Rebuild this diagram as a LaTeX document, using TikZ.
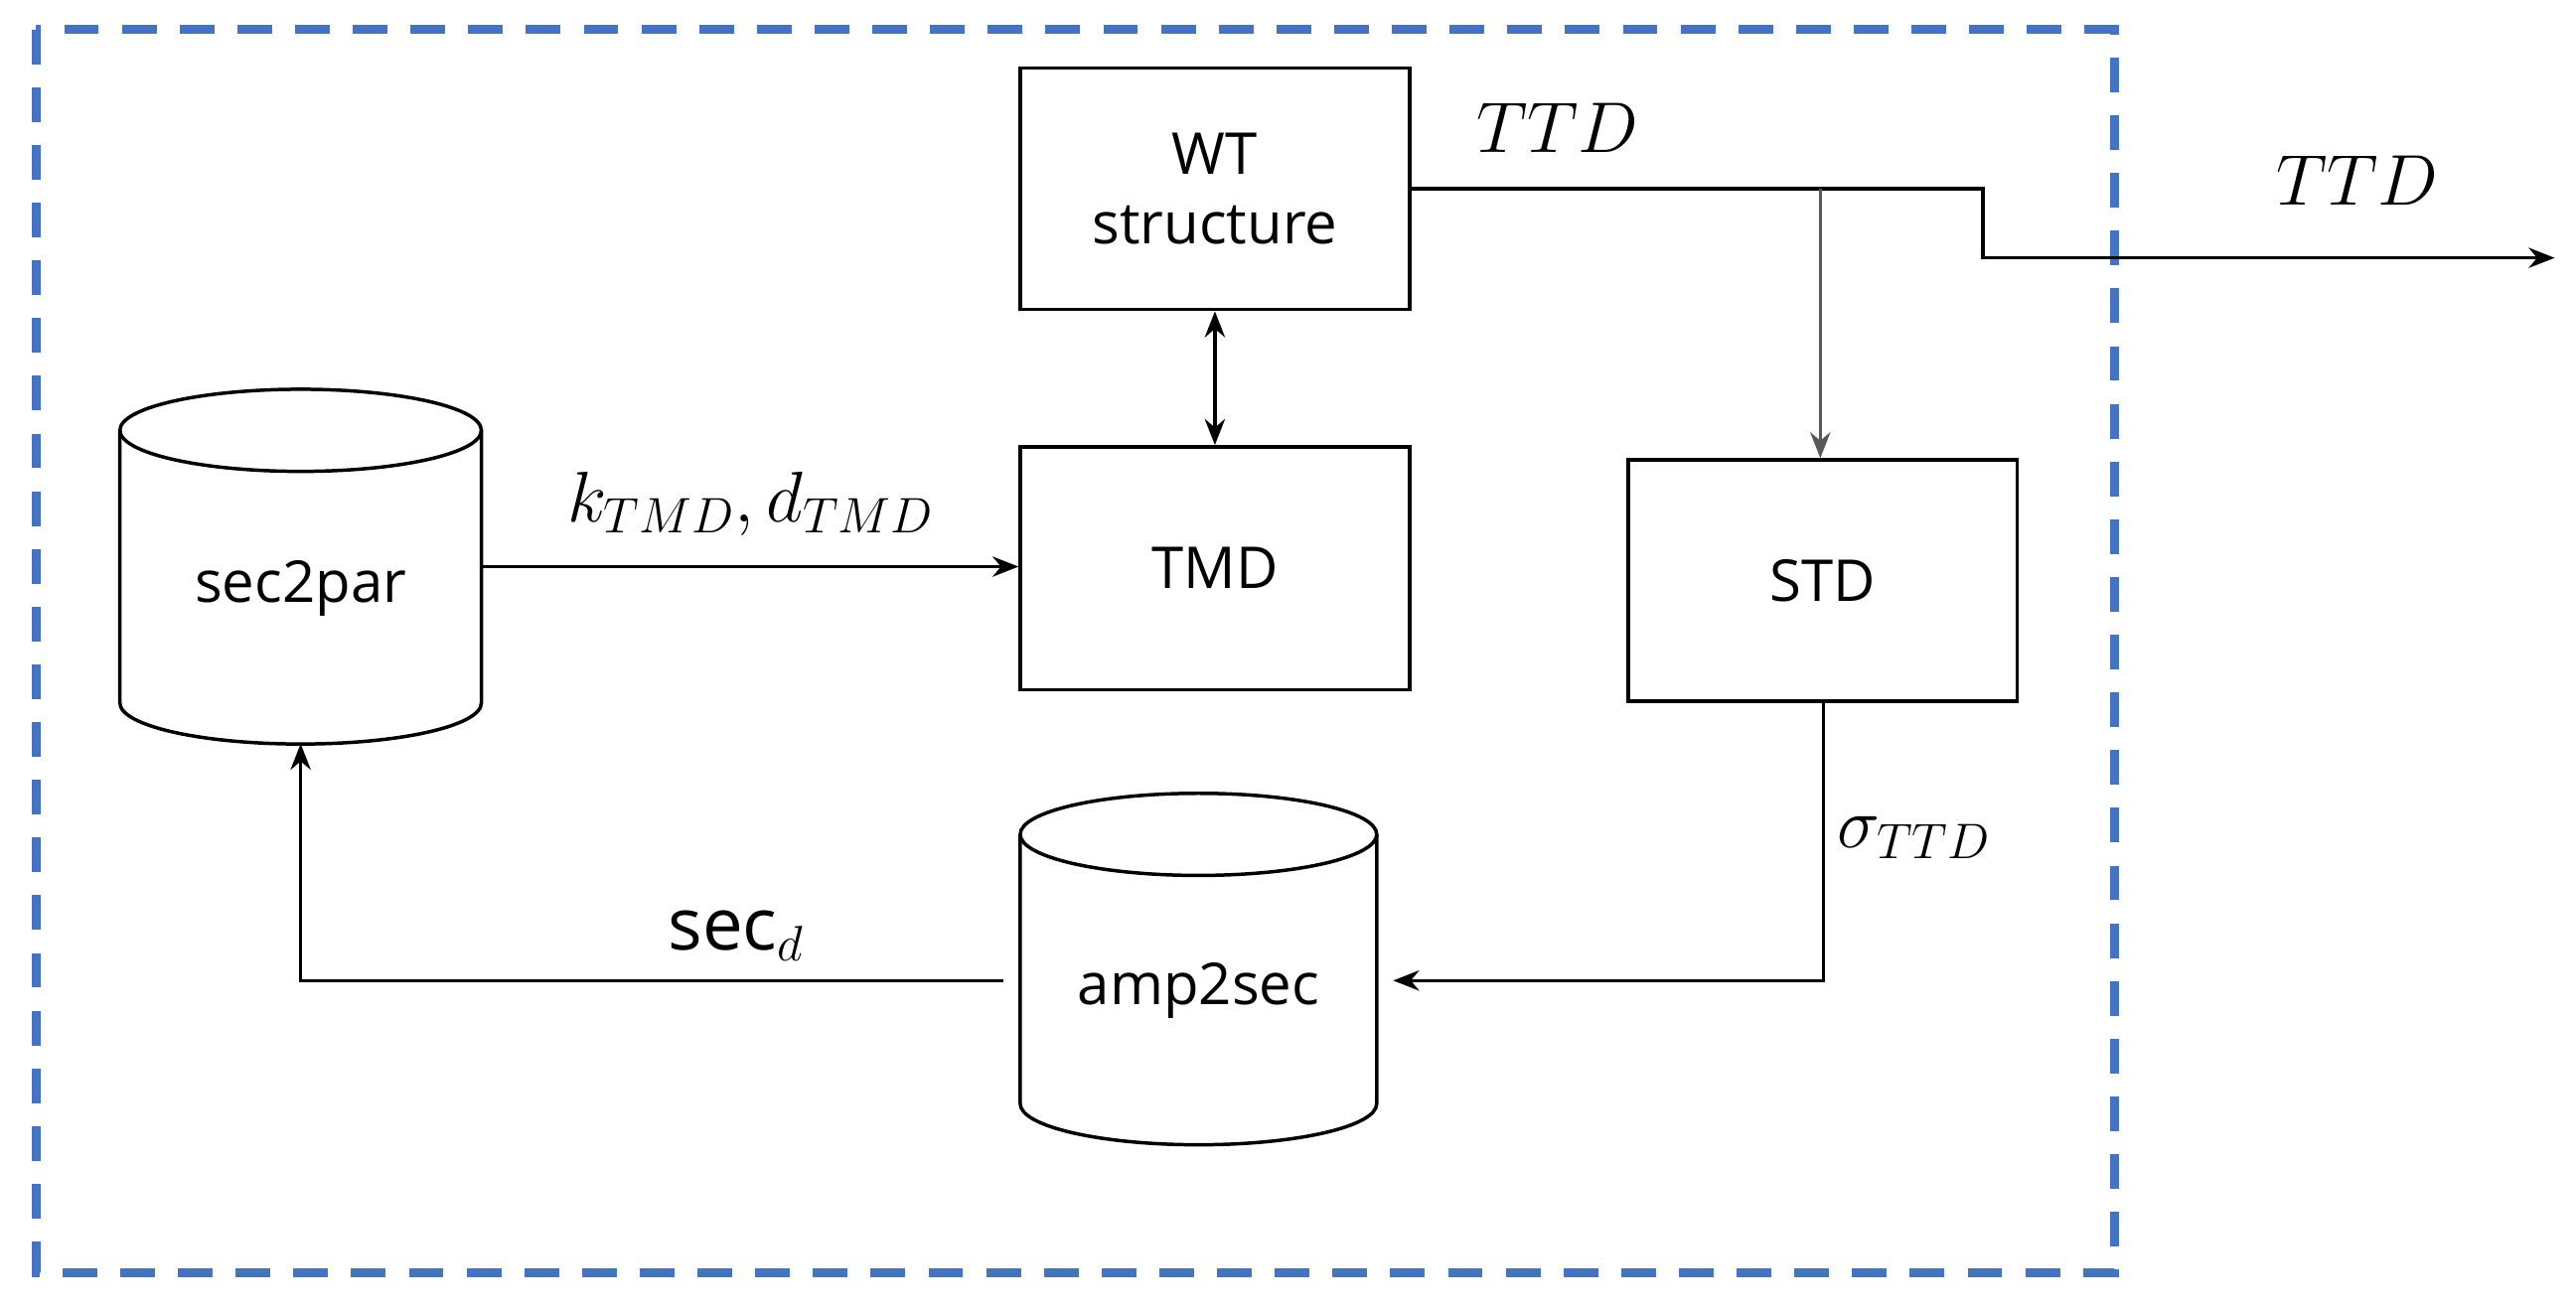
\documentclass[tikz,border=0pt]{standalone}
\usepackage{fontspec}
\setmainfont{Open Sans}
\usetikzlibrary{arrows.meta}
\definecolor{dblue}{RGB}{68,114,196}
\begin{document}
\begin{tikzpicture}[x=0.02cm,y=-0.02cm,
  box/.style={draw,line width=1.2pt,minimum width=4.74cm,minimum height=2.94cm,font=\fontsize{20}{24}\selectfont,align=center},
  cyl/.style={minimum width=4.38cm,minimum height=4.3cm,font=\fontsize{20}{24}\selectfont},
  arr/.style={line width=1.2pt,-{Stealth[length=9pt,width=7pt]}},
  lbl/.style={font=\fontsize{25}{30}\selectfont}]
\useasboundingbox (0,0) rectangle (1568,798);
\draw[dblue,line width=3pt,dash pattern=on 12pt off 8pt] (22,18) rectangle (1287,775);
\node[box] (wt) at (739.5,115) {WT\\structure};
\node[box,minimum height=2.96cm] (tmd) at (739.5,346) {TMD};
\node[box] (std) at (1109.5,353.5) {STD};
% cylinders
\node[cyl] (s2p) at (183,345) {};
\node[cyl] (a2s) at (729.5,590) {};
\foreach \n/\xa/\xb/\ya/\yb in {s2p/73/293/237/453, a2s/621/838/483/697}{
  \draw[line width=1.2pt] (\xa,\ya+25) -- (\xa,\yb-25) arc[start angle=180,end angle=360,x radius={(\xb-\xa)/2},y radius=-25] -- (\xb,\ya+25);
  \draw[line width=1.2pt] ({(\xa+\xb)/2},\ya+25) ellipse[x radius={(\xb-\xa)/2},y radius=25];
}
\node[font=\fontsize{20}{24}\selectfont] at (183,358) {sec2par};
\node[font=\fontsize{20}{24}\selectfont] at (729.5,603) {amp2sec};
% connectors
\draw[line width=1.2pt,{Stealth[length=9pt,width=7pt]}-{Stealth[length=9pt,width=7pt]}] (wt) -- (tmd);
\draw[arr] (s2p.east |- 0,345) -- (tmd.west |- 0,345);
\node[lbl] at (457,307) {$k_{TMD}, d_{TMD}$};
\coordinate (out) at (1555,157);
\draw[arr] (wt.east |- 0,115) -- (1207,115) -- (1207,157) -- (out);
\draw[arr,gray!70!black] (1108,115) -- (std.north -| 1108,0);
\node[lbl] at (948,78) {$TTD$};
\node[lbl] at (1435,110) {$TTD$};
\draw[arr] (std.south -| 1110,0) -- (1110,597) -- (848,597);
\node[lbl] at (1165,510) {$\sigma_{TTD}$};
\draw[arr] (611,597) -- (183,597) -- (s2p.south);
\node[lbl] at (448,570) {$\mathrm{sec}_d$};
\end{tikzpicture}
\end{document}
